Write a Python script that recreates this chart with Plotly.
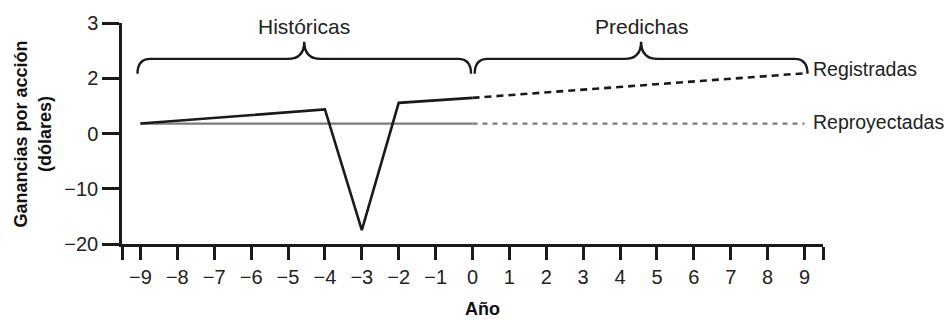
import numpy as np
import plotly.graph_objects as go

# ---- data ----
years_hist = [-9, -4, -3, -2, 0]
reg_hist = [0.36, 0.87, -17.5, 1.11, 1.29]
years_pred = [0, 9]
reg_pred = [1.29, 2.09]
reproj_years_hist = [-9, 0]
reproj_hist = [0.36, 0.36]
reproj_years_pred = [0, 9]
reproj_pred = [0.36, 0.36]

x_ticks = list(range(-9, 10))
x_tick_labels = [("−" + str(-v)) if v < 0 else str(v) for v in x_ticks]
y_tick_values = [-20, -10, 0, 2, 3]
y_tick_labels = ["−20", "−10", "0", "2", "3"]
periods = [("Históricas", -9.08, -0.04), ("Predichas", 0.06, 9.08)]
series_names = ["Registradas", "Reproyectadas"]

# broken (piecewise) y scale: each labelled value occupies an equal step
y_pos = list(range(len(y_tick_values)))


def ty(v):
    return np.interp(v, y_tick_values, y_pos)


BLACK = "#1a1a1a"
GRAY = "#7a7a7a"
FONT = "Liberation Sans, Arial, sans-serif"

fig = go.Figure()
fig.add_trace(go.Scatter(x=reproj_years_hist, y=ty(reproj_hist), mode="lines",
                         line=dict(color=GRAY, width=2.2), hoverinfo="skip"))
fig.add_trace(go.Scatter(x=reproj_years_pred, y=ty(reproj_pred), mode="lines",
                         line=dict(color=GRAY, width=2.2, dash="5px,5px"), hoverinfo="skip"))
fig.add_trace(go.Scatter(x=years_hist, y=ty(reg_hist), mode="lines",
                         line=dict(color=BLACK, width=2.6), hoverinfo="skip"))
fig.add_trace(go.Scatter(x=years_pred, y=ty(reg_pred), mode="lines",
                         line=dict(color=BLACK, width=2.6, dash="7px,5px"), hoverinfo="skip"))

# braces
y_end, y_h, y_tip = 3.08, 3.35, 3.66
r_end, r_mid = 0.35, 0.45
for name, x0, x1 in periods:
    xm = (x0 + x1) / 2
    path = (f"M {x0},{y_end} Q {x0},{y_h} {x0 + r_end},{y_h} "
            f"L {xm - r_mid},{y_h} Q {xm},{y_h} {xm},{y_tip} "
            f"Q {xm},{y_h} {xm + r_mid},{y_h} "
            f"L {x1 - r_end},{y_h} Q {x1},{y_h} {x1},{y_end}")
    fig.add_shape(type="path", path=path, xref="x", yref="y",
                  line=dict(color=BLACK, width=2.4))
    fig.add_annotation(x=xm, y=3.94, xref="x", yref="y", text=name,
                       showarrow=False, xanchor="center", yanchor="middle",
                       font=dict(family=FONT, size=21, color="#222"))

fig.add_annotation(x=years_pred[-1], y=float(ty(reg_pred[-1])), xref="x", yref="y",
                   text=series_names[0], showarrow=False, xanchor="left",
                   yanchor="middle", xshift=6, yshift=4,
                   font=dict(family=FONT, size=19.5, color="#222"))
fig.add_annotation(x=reproj_years_pred[-1], y=float(ty(reproj_pred[-1])), xref="x", yref="y",
                   text=series_names[1], showarrow=False, xanchor="left",
                   yanchor="middle", xshift=6, yshift=2,
                   font=dict(family=FONT, size=19.5, color="#222"))

# axis titles
fig.add_annotation(x=-89 / 701, y=0.495, xref="paper", yref="paper",
                   text="<b>Ganancias por acción<br>(dólares)</b>", textangle=-90,
                   showarrow=False, xanchor="center", yanchor="middle",
                   font=dict(family=FONT, size=18, color="#111"))
fig.add_annotation(x=(482 - 122) / 701, y=-0.295, xref="paper", yref="paper",
                   text="<b>Año</b>", showarrow=False, xanchor="center", yanchor="middle",
                   font=dict(family=FONT, size=18, color="#111"))

fig.update_xaxes(range=[-9.5, 9.5], tickvals=[-9.5] + x_ticks + [9.5],
                 ticktext=[""] + x_tick_labels + [""],
                 showline=True, linewidth=2.5, linecolor=BLACK,
                 ticks="outside", ticklen=13, tickwidth=2.5, tickcolor=BLACK,
                 showgrid=False, zeroline=False,
                 tickfont=dict(family=FONT, size=20, color="#222"))
fig.update_yaxes(range=[0, 4], tickvals=y_pos, ticktext=y_tick_labels,
                 showline=True, linewidth=2.5, linecolor=BLACK,
                 ticks="outside", ticklen=17, tickwidth=2.5, tickcolor=BLACK,
                 showgrid=False, zeroline=False,
                 tickfont=dict(family=FONT, size=20, color="#222"))

fig.update_layout(width=947, height=320, showlegend=False,
                  margin=dict(l=122, r=124, t=21, b=76),
                  plot_bgcolor="white", paper_bgcolor="white")

fig.write_html("out.html", config={"displayModeBar": False},
               post_script="document.body.style.margin='0';document.body.style.overflow='hidden';")
